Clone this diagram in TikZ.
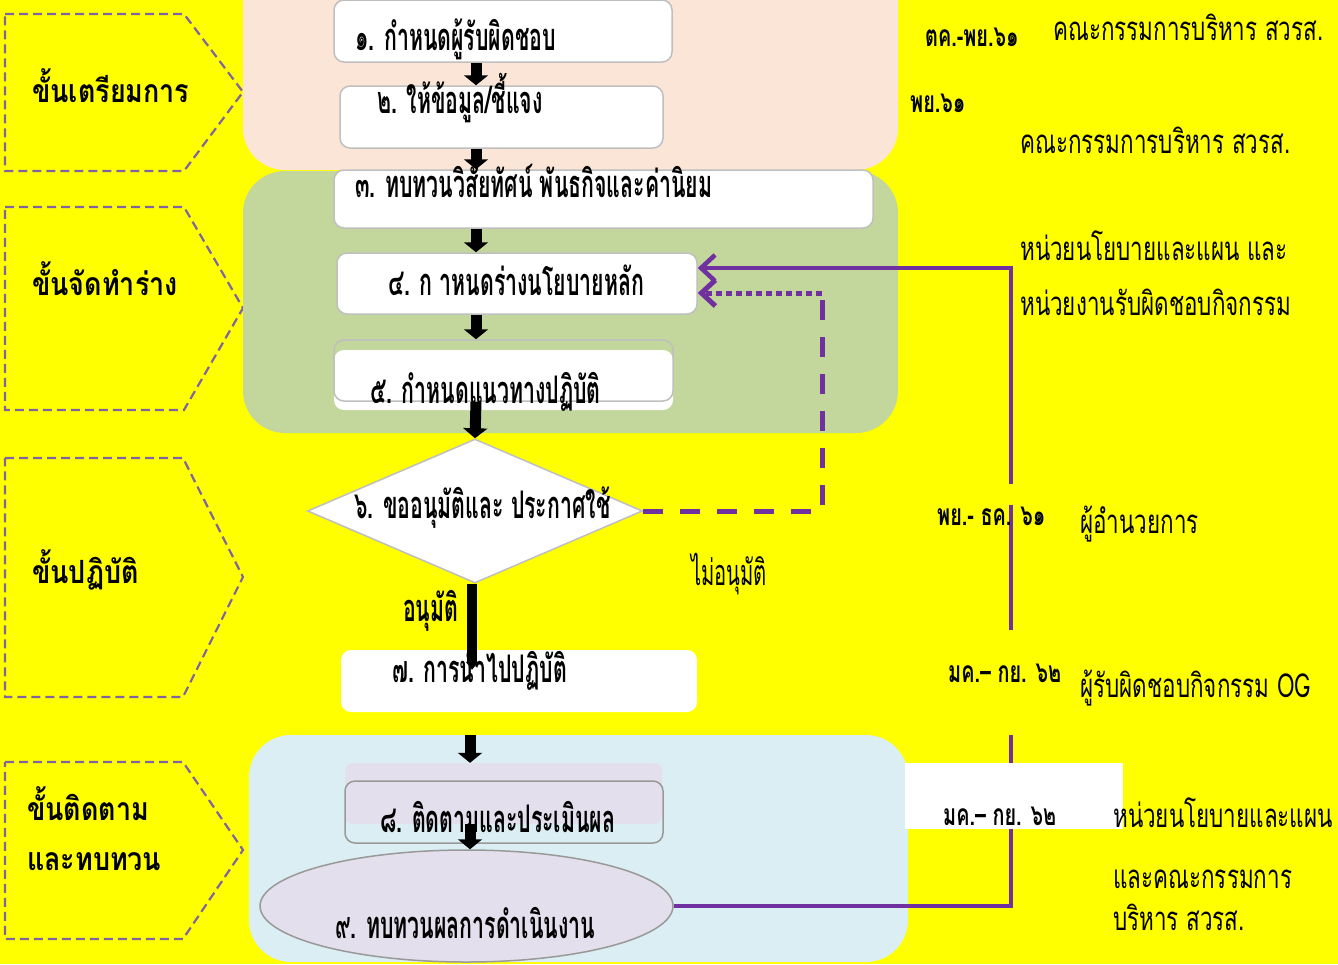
\documentclass[tikz,border=0pt]{standalone}
\usepackage{fontspec}
\usetikzlibrary{arrows.meta,shapes.geometric,calc}
\newfontfamily\thaiB[Script=Thai,FakeStretch=0.56]{Loma}
\newfontfamily\thaiS[Script=Thai,FakeStretch=0.68]{Loma}
\newfontfamily\thaiD[Script=Thai,FakeStretch=0.66]{Loma}
\newfontfamily\thaiP[Script=Thai,FakeStretch=0.84]{Loma}
\definecolor{bgyellow}{HTML}{FFFF00}
\definecolor{peach}{HTML}{FBE5D6}
\definecolor{sage}{HTML}{C3D69B}
\definecolor{paleblue}{HTML}{DAEEF3}
\definecolor{lav}{HTML}{E4DFEC}
\definecolor{purp}{HTML}{7030A0}
\definecolor{phaseline}{HTML}{8064A2}
\definecolor{boxgray}{HTML}{BFBFBF}
\tikzset{
  phase/.style={draw=phaseline, line width=2.2pt, dash pattern=on 9pt off 5pt},
  phasetxt/.style={font=\thaiP\bfseries\fontsize{32}{38}\selectfont, anchor=base west, inner sep=0pt},
  stagebg/.style={rounded corners=42pt},
  wbox/.style={draw=boxgray, line width=1.5pt, fill=white, rounded corners=10pt},
  boxtxt/.style={font=\thaiB\bfseries\fontsize{38}{44}\selectfont, anchor=base west, inner sep=0pt},
  sidetxt/.style={font=\thaiS\fontsize{33}{40}\selectfont, anchor=base west, inner sep=0pt},
  datetxt/.style={font=\thaiD\bfseries\fontsize{30}{36}\selectfont, anchor=base west, inner sep=0pt},
  blk/.style={line width=11pt, -{Triangle[width=24pt,length=10pt]}},
  purpline/.style={draw=purp, line width=4.5pt},
  purpdash/.style={draw=purp, line width=5pt, dash pattern=on 20pt off 17pt},
  purpdot/.style={draw=purp, line width=5pt, dash pattern=on 6pt off 4pt},
  barb/.style={-{Straight Barb[length=14pt,width=26pt]}}
}
\begin{document}
\begin{tikzpicture}[x=1pt,y=-1pt]
\useasboundingbox (0,0) rectangle (1338,964);
\fill[bgyellow] (0,0) rectangle (1338,964);

% phase pentagons
\draw[phase] (5,14) -- (184,14) -- (243,92) -- (184,171) -- (5,171) -- cycle;
\draw[phase] (5,207) -- (184,207) -- (243,308) -- (184,410) -- (5,410) -- cycle;
\draw[phase] (5,458) -- (183,458) -- (243,577) -- (183,697) -- (5,697) -- cycle;
\draw[phase] (5,762) -- (183,762) -- (243,850) -- (183,939) -- (5,939) -- cycle;
\node[phasetxt] (p1) at (32,102) {ขั้นเตรียมการ};
\node[phasetxt] (p2) at (32,295) {ขั้นจัดทำร่าง};
\node[phasetxt] (p3) at (32,583) {ขั้นปฏิบัติ};
\node[phasetxt] (p4a) at (27,820) {ขั้นติดตาม};
\node[phasetxt] (p4b) at (27,870) {และทบทวน};

% stage backgrounds
\fill[peach, stagebg] (243,-50) rectangle (898,170);
\fill[sage, stagebg] (243,171) rectangle (898,433);
\fill[paleblue, stagebg] (249,735) rectangle (908,962);

\coordinate (ax) at (476,0);

% boxes
\node[wbox, minimum width=338pt, minimum height=62pt] (n1) at (503,31) {};
\node[wbox, minimum width=323pt, minimum height=62pt] (n2) at (501.5,117) {};
\node[wbox, minimum width=539pt, minimum height=58pt] (n3) at (603.5,199) {};
\node[wbox, minimum width=360pt, minimum height=61pt] (n4) at (517,283.5) {};
\fill[white, rounded corners=10pt] (334,350) rectangle (673,410);
\node[wbox, fill=none, minimum width=339pt, minimum height=61pt] (n5) at (503.5,370.5) {};
\node[diamond, draw=boxgray, line width=1.5pt, fill=white, minimum width=335pt, minimum height=144pt, inner sep=0pt] (n6) at (475,511) {};
\node[fill=white, rounded corners=10pt, minimum width=356pt, minimum height=62pt] (n7) at (519,681) {};
\node[fill=lav, rounded corners=8pt, minimum width=317pt, minimum height=61pt] (n8) at (503.5,793.5) {};
\node[draw=gray!80, line width=1.5pt, rounded corners=10pt, minimum width=318pt, minimum height=62pt] (n8b) at (504,812) {};
\node[ellipse, draw=gray!80, line width=1.5pt, fill=lav, minimum width=413pt, minimum height=112pt, inner sep=0pt] (n9) at (466.5,906) {};

% black arrows
\draw[blk] (n1.south -| ax) -- (n2.north -| ax);
\draw[blk] (n2.south -| ax) -- (n3.north -| ax);
\draw[blk] (n3.south -| ax) -- (n4.north -| ax);
\draw[blk] (n4.south -| ax) -- (n5.north -| ax);
\draw[blk] (n5.south -| ax) -- (n6.north);
\draw[line width=10pt, -{Triangle[width=12pt,length=8pt]}, shorten >=-20pt] ($(n6.south)+(-3,0)$) -- ($(n6.south |- n7.north)+(-3,0)$);
\draw[blk, shorten <=23pt] (n7.south -| 470,0) -- (n8.north -| 470,0);
\draw[blk] (n8.south -| 470,0) -- (n9.north -| 470,0);

% box texts
\node[boxtxt] (t1) at (355,50) {๑. กำหนดผู้รับผิดชอบ};
\node[boxtxt] (t2) at (377,113) {๒. ให้ข้อมูล/ชี้แจง};
\node[boxtxt] (t3) at (355,197) {๓. ทบทวนวิสัยทัศน์ พันธกิจและค่านิยม};
\node[boxtxt] (t4) at (388,295) {๔. ก าหนดร่างนโยบายหลัก};
\node[boxtxt] (t5) at (370,403) {๕. กำหนดแนวทางปฏิบัติ};
\node[boxtxt] (t6) at (354,518) {๖. ขออนุมัติและ ประกาศใช้};
\node[boxtxt] (t7) at (392,682) {๗. การนำไปปฏิบัติ};
\node[boxtxt] (t8) at (380,832) {๘. ติดตามและประเมินผล};
\node[boxtxt] (t9) at (335,938) {๙. ทบทวนผลการดำเนินงาน};
\node[boxtxt] (yes) at (403,621) {อนุมัติ};
\node[boxtxt, font=\thaiB\fontsize{36}{42}\selectfont] (no) at (691,585) {ไม่อนุมัติ};

% purple feedback connectors
\coordinate (rv) at (1011,268);
\draw[purpline, barb] (n9.east) -| (rv) -- ($(n4.east)+(0,-15.5)$);
\coordinate (dc) at (822,293);
\draw[purpdash] (n6.east) -| (dc);
\draw[purpdot, barb] (dc) -- ($(n4.east)+(0,9.5)$);

% gaps in the line
\fill[bgyellow] (1004,484) rectangle (1020,505);
\fill[bgyellow] (1004,630) rectangle (1020,735);
\fill[white] (905,763) rectangle (1123,829);

% right side texts
\node[datetxt] (d1) at (925,46) {ตค.-พย.๖๑};
\node[sidetxt] (r1) at (1053,40) {คณะกรรมการบริหาร สวรส.};
\node[datetxt] (d2) at (910,112) {พย.๖๑};
\node[sidetxt] (r2) at (1020,153) {คณะกรรมการบริหาร สวรส.};
\node[sidetxt] (r3) at (1020,260) {หน่วยนโยบายและแผน และ};
\node[sidetxt] (r4) at (1020,315) {หน่วยงานรับผิดชอบกิจกรรม};
\node[datetxt] (d3) at (937,525) {พย.- ธค. ๖๑};
\node[sidetxt] (r5) at (1080,533) {ผู้อำนวยการ};
\node[datetxt] (d4) at (948,682) {มค.– กย. ๖๒};
\node[sidetxt] (r6) at (1080,697) {ผู้รับผิดชอบกิจกรรม OG};
\node[datetxt] (d5) at (943,825) {มค.– กย. ๖๒};
\node[sidetxt] (r7) at (1113,827) {หน่วยนโยบายและแผน};
\node[sidetxt] (r8) at (1113,888) {และคณะกรรมการ};
\node[sidetxt] (r9) at (1113,930) {บริหาร สวรส.};
\end{tikzpicture}
\end{document}
